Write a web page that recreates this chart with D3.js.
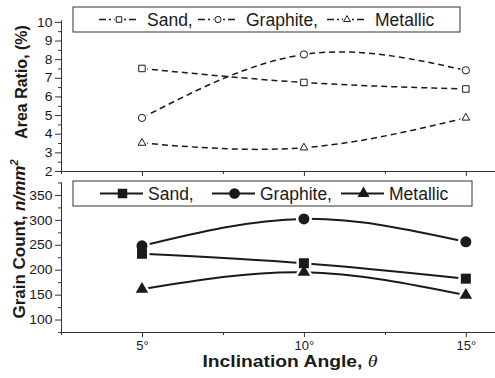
<!DOCTYPE html>
<html>
<head>
<meta charset="utf-8">
<script src="https://cdn.jsdelivr.net/npm/d3@7"></script>
<style>
body { margin: 0; background: #fff; }
svg { display: block; font-family: "Liberation Sans", Arial, sans-serif; }
</style>
</head>
<body>
<div id="chart-area"></div>
<script>
// values
const angles = [5, 10, 15]
const angleLabels = ["5°", "10°", "15°"]
const areaSand = [7.5, 6.75, 6.4]
const areaGraphite = [4.85, 8.25, 7.4]
const areaMetallic = [3.5, 3.25, 4.85]
const countSand = [232, 213, 182]
const countGraphite = [248, 302, 256]
const countMetallic = [161, 195, 149]
const areaTicks = [2, 3, 4, 5, 6, 7, 8, 9, 10]
const countTicks = [100, 150, 200, 250, 300, 350]
const seriesNames = ["Sand,", "Graphite,", "Metallic"]

const W = 495, H = 378
const INK = "#1a1a1a"

const svg = d3.select("#chart-area").append("svg")
	.attr("width", W)
	.attr("height", H)

const x = d3.scaleLinear().domain([2.5, 15.9]).range([61, 495])
const yArea = d3.scaleLinear().domain([2, 10.1]).range([171, 20])
const yCount = d3.scaleLinear().domain([75, 376]).range([332, 182])

const symbols = [d3.symbolSquare, d3.symbolCircle, d3.symbolTriangle]

function drawAxes(y, majors, minorStep, showXLabels) {
	const base = y.range()[0]
	const minorX = d3.range(2.5, 15, 5)
	const minorY = d3.range(majors[0] - minorStep, y.domain()[1], minorStep * 2)
		.filter(v => v >= y.domain()[0])

	// x axis
	const xg = svg.append("g").attr("transform", `translate(0, ${base})`)
	xg.call(d3.axisBottom(x).tickValues(angles).tickSize(5).tickSizeOuter(0).tickPadding(4)
		.tickFormat((d, i) => showXLabels ? angleLabels[i] : ""))
	xg.append("g").call(d3.axisBottom(x).tickValues(minorX).tickSize(3).tickSizeOuter(0).tickFormat(""))

	// y axis
	const yg = svg.append("g").attr("transform", `translate(${x.range()[0]}, 0)`)
	yg.call(d3.axisLeft(y).tickValues(majors).tickSize(6).tickSizeOuter(0).tickPadding(2))
	yg.append("g").call(d3.axisLeft(y).tickValues(minorY).tickSize(3).tickSizeOuter(0).tickFormat(""))

	for (const g of [xg, yg]) {
		g.attr("font-family", null).attr("font-size", null)
		g.selectAll("path, line").attr("stroke", "#333").attr("stroke-width", 1)
		g.selectAll("text")
			.attr("fill", INK)
			.attr("font-size", "13px")
	}
	yg.selectAll("text").attr("transform", "scale(1.07,1)")
}

function drawSeries(y, allValues, opts) {
	const line = d3.line()
		.x((d, i) => x(angles[i]))
		.y(d => y(d))
		.curve(d3.curveNatural)

	const g = svg.append("g")
	allValues.forEach(vals => {
		g.append("path")
			.attr("d", line(vals))
			.attr("fill", "none")
			.attr("stroke", INK)
			.attr("stroke-width", opts.lineWidth)
			.attr("stroke-dasharray", opts.dash)
	})

	// white halo so the lines stop short of the markers
	allValues.forEach((vals, s) => {
		g.selectAll(null).data(vals).enter().append("path")
			.attr("transform", (d, i) => `translate(${x(angles[i])}, ${y(d)})`)
			.attr("d", d3.symbol(symbols[s], opts.sizes[s]))
			.attr("fill", "#fff")
			.attr("stroke", "#fff")
			.attr("stroke-width", opts.halo)
	})
	allValues.forEach((vals, s) => {
		g.selectAll(null).data(vals).enter().append("path")
			.attr("transform", (d, i) => `translate(${x(angles[i])}, ${y(d)})`)
			.attr("d", d3.symbol(symbols[s], opts.sizes[s]))
			.attr("fill", opts.open ? "#fff" : INK)
			.attr("stroke", INK)
			.attr("stroke-width", opts.open ? 1 : 0)
	})
}

function drawLegend(box, items, opts) {
	const g = svg.append("g")
	g.append("rect")
		.attr("x", box.x).attr("y", box.y)
		.attr("width", box.w).attr("height", box.h)
		.attr("fill", "#fff")
		.attr("stroke", "#333")
		.attr("stroke-width", 1)
	const cy = box.y + box.h / 2
	items.forEach((it, s) => {
		g.append("line")
			.attr("x1", it.start).attr("x2", it.start + opts.sample)
			.attr("y1", cy).attr("y2", cy)
			.attr("stroke", INK)
			.attr("stroke-width", opts.lineWidth)
			.attr("stroke-dasharray", opts.dash)
		const mx = it.start + opts.sample / 2 + 1
		if (opts.halo) {
			g.append("path")
				.attr("transform", `translate(${mx}, ${cy})`)
				.attr("d", d3.symbol(symbols[s], opts.sizes[s]))
				.attr("fill", "#fff").attr("stroke", "#fff").attr("stroke-width", opts.halo)
		}
		g.append("path")
			.attr("transform", `translate(${mx}, ${cy})`)
			.attr("d", d3.symbol(symbols[s], opts.sizes[s]))
			.attr("fill", opts.open ? "#fff" : INK)
			.attr("stroke", INK)
			.attr("stroke-width", opts.open ? 1 : 0)
		g.append("text")
			.attr("x", it.start + opts.textGap)
			.attr("y", cy + 6.2)
			.attr("font-size", "17.5px")
			.attr("fill", INK)
			.text(seriesNames[s])
	})
}

// top panel: area ratio
drawAxes(yArea, areaTicks, 0.5, false)
drawSeries(yArea, [areaSand, areaGraphite, areaMetallic], {
	lineWidth: 1.5, dash: "6,4", sizes: [42, 42, 26], open: true, halo: 4
})
drawLegend({x: 73, y: 7, w: 387, h: 25},
	[{start: 99}, {start: 198}, {start: 327}],
	{sample: 38, textGap: 48, lineWidth: 1.3, dash: "7,3,2,3", sizes: [30, 30, 20], open: true, halo: 3})

// bottom panel: grain count
drawAxes(yCount, countTicks, 25, true)
drawSeries(yCount, [countSand, countGraphite, countMetallic], {
	lineWidth: 2, dash: null, sizes: [100, 95, 68], open: false, halo: 5
})
drawLegend({x: 73, y: 181, w: 399, h: 25},
	[{start: 100}, {start: 212}, {start: 341}],
	{sample: 43, textGap: 48, lineWidth: 2, dash: null, sizes: [90, 90, 62], open: false, halo: 0})

// axis titles
svg.append("text")
	.attr("transform", "translate(26.5, 82) rotate(-90)")
	.attr("text-anchor", "middle")
	.attr("font-size", "16px")
	.attr("font-weight", "bold")
	.attr("fill", INK)
	.text("Area Ratio, (%)")

const gc = svg.append("text")
	.attr("transform", "translate(24.5, 239) rotate(-90)")
	.attr("text-anchor", "middle")
	.attr("font-size", "17px")
	.attr("font-weight", "bold")
	.attr("fill", INK)
gc.append("tspan").text("Grain Count, ")
gc.append("tspan").attr("font-style", "italic").text("n/mm")
gc.append("tspan").attr("font-size", "11px").attr("dy", -7).attr("font-style", "italic").text("2")

// x title is drawn wide in the figure: stretch it horizontally
const xt = svg.append("text")
	.attr("transform", "translate(290, 367) scale(1.17, 1)")
	.attr("text-anchor", "middle")
	.attr("font-size", "16.5px")
	.attr("font-weight", "bold")
	.attr("fill", INK)
xt.append("tspan").text("Inclination Angle, ")
xt.append("tspan")
	.attr("font-family", "'Liberation Serif', serif")
	.attr("font-style", "italic")
	.attr("font-weight", "normal")
	.attr("font-size", "17px")
	.text("θ")
</script>
</body>
</html>
